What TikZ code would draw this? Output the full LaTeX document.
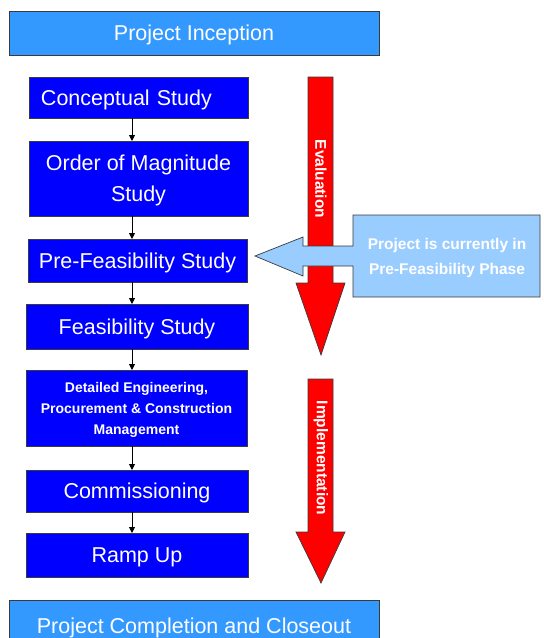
\documentclass[tikz,border=0pt]{standalone}
\usepackage{fontspec}
\setmainfont{Liberation Sans}
\usetikzlibrary{arrows.meta}
\definecolor{barblue}{HTML}{3399FF}
\definecolor{boxblue}{HTML}{0000FF}
\definecolor{calloutblue}{HTML}{99CCFF}
\definecolor{arrowred}{HTML}{FF0000}
\definecolor{edgegray}{HTML}{3A3A3A}
\tikzset{
  bar/.style={fill=barblue, draw=edgegray, line width=0.8pt, text=white, inner sep=0pt, outer sep=0pt,
    minimum width=370pt, text depth=0pt, font=\fontsize{21.5}{25}\selectfont},
  stagebox/.style={fill=boxblue, draw=edgegray, line width=0.8pt, text=white, inner sep=0pt, outer sep=0pt,
    align=center, text depth=0pt, font=\fontsize{21.5}{31}\selectfont},
  conn/.style={draw=black, line width=0.9pt, -{Triangle[length=6pt,width=6pt]}},
  redarrow/.style={fill=arrowred, draw=edgegray, line width=0.7pt},
  arrowtext/.style={text=white, font=\bfseries\fontsize{15.5}{18}\selectfont, rotate=-90, inner sep=0pt},
  callout/.style={fill=calloutblue, draw=edgegray, line width=0.7pt},
}
\begin{document}
\begin{tikzpicture}[x=1pt,y=-1pt]
\useasboundingbox (0,0) rectangle (544,638);
\begin{scope}
\clip (0,0) rectangle (544,638);

% phase bars
\node[bar, minimum height=44pt] (inc) at (194,33) {Project Inception};
\node[bar, minimum height=52pt] (comp) at (194,626) {Project Completion and Closeout};

% stage boxes
\node[stagebox, minimum height=41pt, inner xsep=12pt, text width=195pt, align=left] (c1) at (138.5,97.5) {Conceptual Study};
\node[stagebox, minimum width=219pt, minimum height=75pt] (c2) at (138.5,178.5) {Order of Magnitude\\Study};
\node[stagebox, minimum width=219pt, minimum height=43pt] (c3) at (137.5,260.5) {Pre-Feasibility Study};
\node[stagebox, minimum width=222pt, minimum height=45pt] (c4) at (137,326.5) {Feasibility Study};
\node[stagebox, minimum width=221pt, minimum height=76pt, font=\bfseries\fontsize{14}{21}\selectfont] (c5) at (136.5,408) {Detailed Engineering,\\Procurement \& Construction\\Management};
\node[stagebox, minimum width=222pt, minimum height=42pt] (c6) at (137,491) {Commissioning};
\node[stagebox, minimum width=222pt, minimum height=44pt] (c7) at (137,555) {Ramp Up};

% connectors
\coordinate (col) at (132,0);
\draw[conn] (c1.south -| col) -- (c2.north -| col);
\draw[conn] (c2.south -| col) -- (c3.north -| col);
\draw[conn] (c3.south -| col) -- (c4.north -| col);
\draw[conn] (c4.south -| col) -- (c5.north -| col);
\draw[conn] (c5.south -| col) -- (c6.north -| col);
\draw[conn] (c6.south -| col) -- (c7.north -| col);

% evaluation arrow
\path[redarrow] (308,77) -- (333,77) -- (333,283) -- (345,283) -- (321,355) -- (296,283) -- (308,283) -- cycle;
\node[arrowtext] (evaltext) at (321,179) {Evaluation};

% implementation arrow
\path[redarrow] (308,379) -- (333,379) -- (333,532) -- (345,532) -- (321,583) -- (296,532) -- (308,532) -- cycle;
\node[arrowtext] (impltext) at (321,458) {Implementation};

% callout
\path[callout] (353,215) -- (540,215) -- (540,297) -- (353,297) -- (353,266) -- (303,266) -- (303,276)
  -- (255,256) -- (303,237) -- (303,246) -- (353,246) -- cycle;
\node[text=white, align=center, font=\bfseries\fontsize{15.5}{25}\selectfont, inner sep=0pt] (calltext) at (447,258)
  {Project is currently in\\Pre-Feasibility Phase};
\end{scope}
\end{tikzpicture}
\end{document}
